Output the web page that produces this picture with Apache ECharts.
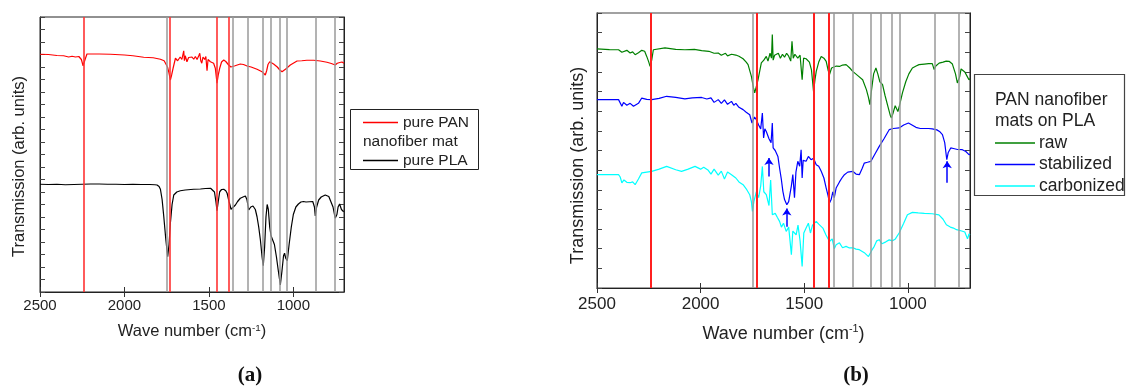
<!DOCTYPE html>
<html>
<head>
<meta charset="utf-8">
<script src="https://cdn.jsdelivr.net/npm/echarts@6/dist/echarts.min.js"></script>
<style>
  html, body { margin: 0; padding: 0; background: #fff; }
  #chart { width: 1126px; height: 390px; }
</style>
</head>
<body>
<div id="chart"></div>
<script>
// x ticks (wave number, cm-1)
var xTicks = [1000, 1500, 2000, 2500];

// reference band positions
var redBands = [2240, 1730, 1452, 1382];
var grayBands = [1750, 1358, 1268, 1180, 1132, 1080, 1038, 870, 755];

// (a) pure PAN nanofiber mat
var panW = [2500,2450,2400,2360,2330,2310,2290,2270,2255,2245,2240,2233,2222,2150,2083,2000,1950,1886,1830,1787,1765,1757,1745,1738,1728,1720,1712,1698,1685,1670,1660,1649,1645,1640,1630,1620,1610,1600,1590,1580,1570,1560,1554,1548,1542,1535,1525,1518,1511,1505,1491,1472,1462,1452,1444,1436,1425,1412,1400,1383,1370,1363,1345,1314,1295,1274,1250,1215,1185,1175,1166,1158,1150,1140,1130,1117,1095,1080,1067,1045,1018,978,950,920,880,840,801,775,752,740,725,712,700];
var panT = [9.51,9.50,9.46,9.45,9.40,9.43,9.40,9.42,9.30,9.05,9.01,9.30,9.52,9.52,9.51,9.48,9.45,9.39,9.37,9.31,9.25,9.21,9.00,8.81,8.48,8.70,8.95,9.35,9.25,9.40,9.30,9.65,9.25,9.45,9.21,9.38,9.30,9.40,9.31,9.42,9.30,9.45,9.55,9.25,9.15,9.40,9.30,9.42,8.85,9.30,9.21,9.15,8.95,8.35,8.70,8.95,9.20,9.28,9.22,9.08,9.00,8.95,9.05,9.12,9.10,9.04,9.00,8.91,8.81,8.75,8.68,8.85,9.10,9.21,9.18,9.12,9.00,8.88,8.81,8.92,9.08,9.24,9.25,9.27,9.27,9.24,9.19,9.14,9.08,9.15,9.18,9.20,9.15];

// (a) pure PLA
var plaW = [2500,2450,2400,2350,2300,2250,2200,2150,2100,2050,2000,1950,1900,1850,1820,1807,1795,1787,1777,1767,1755,1744,1736,1728,1718,1708,1690,1669,1640,1590,1550,1520,1490,1481,1467,1458,1452,1445,1436,1425,1412,1400,1392,1380,1369,1355,1343,1330,1314,1298,1284,1275,1264,1252,1239,1225,1215,1205,1195,1185,1178,1170,1162,1155,1148,1140,1132,1122,1112,1100,1090,1077,1068,1058,1052,1045,1036,1025,1012,1000,985,970,955,940,925,905,885,875,870,862,850,835,811,790,781,765,752,742,735,726,715,702,700];
var plaT = [4.31,4.30,4.31,4.29,4.30,4.31,4.32,4.32,4.31,4.31,4.30,4.31,4.30,4.30,4.29,4.28,4.22,4.11,3.70,3.01,2.10,1.41,1.90,2.75,3.50,3.88,4.00,4.05,4.08,4.11,4.12,4.14,4.15,4.15,4.00,3.60,3.25,3.60,4.01,4.10,4.11,4.05,3.95,3.60,3.31,3.40,3.48,3.62,3.75,3.80,3.84,3.70,3.28,3.40,3.44,3.30,3.01,2.60,2.08,1.40,1.05,1.80,3.00,3.50,3.30,2.60,2.25,2.19,1.90,1.40,0.90,0.28,0.80,1.45,1.55,1.35,1.25,1.90,2.60,3.10,3.40,3.52,3.60,3.62,3.60,3.61,3.62,3.40,3.04,3.40,3.68,3.80,3.88,3.82,3.75,3.40,2.95,3.10,3.40,3.52,3.30,3.21,3.20];

// (b) PAN nanofiber mats on PLA: raw
var rawW = [2500,2440,2396,2380,2372,2356,2340,2328,2316,2300,2284,2270,2260,2250,2244,2236,2228,2172,2120,2076,2030,1995,1960,1935,1915,1900,1880,1870,1851,1830,1815,1795,1780,1771,1755,1745,1739,1730,1723,1707,1695,1683,1675,1665,1658,1654,1650,1643,1635,1625,1615,1605,1595,1585,1575,1571,1565,1559,1553,1545,1531,1520,1510,1503,1491,1475,1465,1455,1448,1442,1430,1418,1405,1394,1385,1378,1368,1359,1345,1330,1315,1298,1280,1266,1240,1218,1200,1190,1183,1175,1165,1154,1145,1135,1122,1110,1095,1085,1079,1070,1061,1048,1040,1026,1010,995,978,960,946,920,900,882,873,865,849,830,815,801,785,770,761,750,743,737,725,715,705,700];
var rawT = [12.17,12.14,12.13,12.00,11.96,12.10,11.96,12.02,11.88,11.98,12.10,12.05,11.79,11.50,11.28,11.60,12.13,12.22,12.15,12.13,12.15,12.08,12.05,11.95,11.96,11.85,11.95,11.82,11.90,11.86,11.80,11.67,11.50,11.37,10.77,10.20,9.93,10.30,10.60,11.46,11.60,11.79,11.55,11.95,11.70,12.90,11.60,11.85,11.79,11.95,11.70,11.90,11.75,11.95,11.80,11.88,11.55,12.56,11.70,11.90,11.70,11.85,10.60,11.70,11.67,11.50,11.10,10.01,10.60,11.03,11.50,11.79,11.70,11.54,11.10,10.86,11.20,11.12,11.30,11.28,11.35,11.37,11.20,11.03,10.80,10.60,10.10,9.70,9.33,10.10,10.90,11.20,10.90,10.50,10.35,9.80,9.20,8.80,8.66,8.95,9.28,8.98,9.30,9.93,10.50,10.90,11.20,11.30,11.37,11.40,11.42,11.42,11.12,11.30,11.45,11.50,11.55,11.54,11.40,10.90,10.44,10.75,11.15,11.20,11.00,10.80,10.60,10.65];

// (b) stabilized
var stabW = [2500,2440,2396,2388,2380,2372,2364,2356,2348,2340,2332,2324,2316,2300,2284,2260,2236,2200,2164,2120,2076,2040,1995,1970,1950,1935,1915,1900,1885,1870,1851,1840,1830,1815,1795,1780,1763,1752,1747,1740,1731,1720,1710,1702,1696,1690,1683,1670,1660,1654,1650,1640,1635,1627,1619,1610,1603,1595,1584,1575,1571,1562,1555,1547,1540,1531,1522,1515,1510,1505,1491,1480,1467,1455,1442,1430,1418,1405,1394,1385,1378,1370,1362,1355,1346,1330,1315,1306,1290,1282,1266,1250,1234,1220,1210,1195,1178,1160,1138,1115,1090,1070,1042,1020,997,980,961,940,900,882,860,845,833,822,812,805,793,780,760,737,720,705,700];
var stabT = [9.59,9.59,9.59,9.50,9.25,9.45,9.45,9.30,9.25,9.40,9.45,9.25,9.16,9.40,9.67,9.60,9.59,9.65,9.76,9.70,9.63,9.68,9.70,9.62,9.68,9.45,9.59,9.40,9.58,9.35,9.50,9.30,9.40,9.20,9.08,8.95,8.82,8.40,8.31,8.70,8.57,8.30,8.10,8.91,7.64,8.10,7.97,7.60,7.40,8.40,7.13,7.00,6.96,6.70,6.11,5.50,4.92,4.50,4.24,4.40,4.50,5.20,5.77,4.60,5.90,6.45,6.20,7.04,5.60,6.50,6.45,6.70,6.53,6.60,6.28,6.20,5.94,5.60,5.09,4.70,4.33,4.50,4.90,4.60,5.09,5.40,5.65,5.77,5.90,5.94,5.94,5.80,5.77,6.10,6.36,6.40,6.45,6.80,7.21,7.60,8.06,8.12,8.15,8.30,8.40,8.30,8.18,8.12,8.12,8.10,8.05,7.95,7.81,7.40,6.53,6.90,7.13,7.10,7.05,7.04,6.95,6.79,6.80];

// (b) carbonized
var carbW = [2500,2440,2396,2388,2380,2370,2356,2348,2340,2328,2316,2300,2284,2236,2200,2164,2120,2092,2060,2027,2000,1985,1963,1950,1935,1915,1900,1885,1870,1851,1830,1815,1795,1780,1763,1755,1750,1743,1731,1720,1710,1702,1695,1683,1670,1662,1654,1640,1630,1619,1610,1600,1587,1575,1562,1555,1539,1530,1520,1510,1502,1491,1480,1470,1460,1442,1430,1410,1395,1378,1365,1355,1346,1330,1315,1298,1282,1265,1250,1234,1210,1190,1186,1175,1162,1150,1138,1125,1106,1090,1074,1060,1042,1020,1002,978,950,920,882,850,830,814,795,780,765,740,725,717,712,705,700];
var carbT = [5.77,5.77,5.77,5.65,5.35,5.50,5.38,5.45,5.36,5.40,5.26,5.55,5.86,5.94,6.05,6.19,6.02,5.94,6.05,6.19,6.05,6.15,5.99,5.80,6.05,5.75,5.95,5.55,5.90,5.77,5.60,5.40,5.26,5.05,4.75,4.40,3.90,4.40,4.90,4.60,5.20,6.19,4.90,4.75,4.20,5.50,3.73,3.80,3.60,3.39,3.10,3.30,2.88,3.10,1.70,2.90,2.71,3.20,2.40,1.10,2.80,3.05,3.30,2.80,3.20,3.39,3.25,3.05,2.70,2.37,2.50,2.00,2.20,2.30,2.05,2.12,2.04,2.05,1.98,1.95,1.80,1.60,1.53,1.90,2.12,2.40,2.46,2.25,2.35,2.45,2.40,2.50,2.80,3.30,3.73,3.85,3.82,3.80,3.78,3.72,3.50,3.22,3.10,3.05,2.97,2.90,2.85,2.80,2.50,2.75,2.70];

// blue arrows in (b): [wave number, from, to]
var arrows = [[1670, 5.68, 6.62], [1584, 3.12, 4.05], [810, 5.36, 6.45]];

function zip(w, t) {
  return w.map(function (v, i) { return [v, t[i]]; });
}

var font = 'Liberation Sans, Arial, sans-serif';
var myChart = echarts.init(document.getElementById('chart'));

function bandLines(red, gray, redColor, redW) {
  var d = [];
  gray.forEach(function (v) { d.push({xAxis: v, lineStyle: {color: '#9a9a9a', width: 1.5, type: 'solid'}}); });
  red.forEach(function (v) { d.push({xAxis: v, lineStyle: {color: redColor, width: redW, type: 'solid'}}); });
  return d;
}

function xAxes(gi, fs, gap, nameSize, margin) {
  return [
    {
      gridIndex: gi, type: 'value', inverse: true, min: 700, max: 2500,
      splitLine: {show: false},
      axisLine: {lineStyle: {color: '#222', width: 1}},
      axisTick: {inside: true, length: 5, customValues: xTicks, lineStyle: {color: '#333'}},
      axisLabel: {customValues: xTicks, fontSize: fs, color: '#222', fontFamily: font, margin: margin,
        formatter: function (v) { return String(v); }},
      name: 'Wave number (cm{sup|-1})', nameLocation: 'middle', nameGap: gap,
      nameTextStyle: {fontSize: nameSize, color: '#222', fontFamily: font,
        rich: {sup: {fontSize: nameSize * 0.6, verticalAlign: 'top', padding: [0, 0, nameSize * 0.45, 0], fontFamily: font, color: '#222'}}}
    },
    {
      gridIndex: gi, type: 'value', inverse: true, min: 700, max: 2500, position: 'top',
      splitLine: {show: false}, axisLine: {show: false},
      axisTick: {inside: true, length: 5, customValues: xTicks, lineStyle: {color: '#333'}},
      axisLabel: {show: false}
    }
  ];
}

function yAxes(gi, max, interval, gap, nameSize, shift) {
  return [
    {
      gridIndex: gi, type: 'value', min: 0, max: max, interval: interval,
      splitLine: {show: false},
      axisLine: {show: true, lineStyle: {color: '#222', width: 1}},
      axisTick: {inside: true, length: 5, lineStyle: {color: '#444'}},
      axisLabel: {show: false},
      name: 'Transmission (arb. units)', nameLocation: 'middle', nameGap: gap,
      nameTextStyle: {fontSize: nameSize, color: '#222', fontFamily: font, padding: [0, shift, 0, 0]}
    },
    {
      gridIndex: gi, type: 'value', min: 0, max: max, interval: interval, position: 'right',
      splitLine: {show: false},
      axisLine: {show: true, lineStyle: {color: '#222', width: 1}},
      axisTick: {inside: true, length: 5, lineStyle: {color: '#444'}},
      axisLabel: {show: false}
    }
  ];
}

function curve(name, xi, yi, w, t, color) {
  return {
    name: name, type: 'line', xAxisIndex: xi, yAxisIndex: yi,
    data: zip(w, t), showSymbol: false, symbol: 'none', smooth: false,
    lineStyle: {color: color, width: 1.2}, itemStyle: {color: color},
    animation: false, z: 2
  };
}

var stabSeries = curve('stabilized', 2, 2, stabW, stabT, '#0000ff');
stabSeries.markLine = {
  silent: true, animation: false, symbol: ['none', 'arrow'], symbolSize: 7,
  label: {show: false},
  lineStyle: {color: '#0000ff', width: 1.5, type: 'solid'},
  data: arrows.map(function (a) { return [{coord: [a[0], a[1]]}, {coord: [a[0], a[2]]}]; })
};

var option = {
  backgroundColor: '#fff',
  animation: false,
  grid: [
    {left: 40, top: 17, width: 304, height: 275, show: true, borderColor: '#222', borderWidth: 1},
    {left: 597, top: 13, width: 373, height: 275, show: true, borderColor: '#444', borderWidth: 1.2}
  ],
  xAxis: xAxes(0, 15, 31, 16.5, 6).concat(xAxes(1, 17, 36, 18, 8)),
  yAxis: yAxes(0, 11, 0.5, 12, 16.5, 24).concat(yAxes(1, 14, 1, 10, 18, 30)),
  series: [
    curve('pure PAN nanofiber mat', 0, 0, panW, panT, '#ff0000'),
    curve('pure PLA', 0, 0, plaW, plaT, '#000000'),
    curve('raw', 2, 2, rawW, rawT, '#008000'),
    stabSeries,
    curve('carbonized', 2, 2, carbW, carbT, '#00ffff'),
    {
      type: 'line', xAxisIndex: 0, yAxisIndex: 0, data: [], z: 3,
      markLine: {silent: true, animation: false, symbol: 'none', label: {show: false},
        data: bandLines(redBands, grayBands, '#f33', 1.6)}
    },
    {
      type: 'line', xAxisIndex: 2, yAxisIndex: 2, data: [], z: 3,
      markLine: {silent: true, animation: false, symbol: 'none', label: {show: false},
        data: bandLines(redBands, grayBands, '#ff2020', 2)}
    }
  ],
  graphic: [
    // legend (a)
    {type: 'rect', shape: {x: 350.5, y: 109.5, width: 128, height: 60}, style: {fill: '#fff', stroke: '#222', lineWidth: 1}},
    {type: 'line', shape: {x1: 363, y1: 122.5, x2: 398, y2: 122.5}, style: {stroke: '#ff0000', lineWidth: 1.3}},
    {type: 'text', x: 403, y: 122.5, style: {text: 'pure PAN', fontSize: 15.5, fontFamily: font, fill: '#222', verticalAlign: 'middle'}},
    {type: 'text', x: 363, y: 142, style: {text: 'nanofiber mat', fontSize: 15.5, fontFamily: font, fill: '#222', verticalAlign: 'middle'}},
    {type: 'line', shape: {x1: 363, y1: 160.5, x2: 398, y2: 160.5}, style: {stroke: '#000', lineWidth: 1.3}},
    {type: 'text', x: 403, y: 160.5, style: {text: 'pure PLA', fontSize: 15.5, fontFamily: font, fill: '#222', verticalAlign: 'middle'}},
    // legend (b)
    {type: 'rect', shape: {x: 974.5, y: 74.5, width: 150, height: 121}, style: {fill: '#fff', stroke: '#444', lineWidth: 1.2}},
    {type: 'text', x: 995, y: 100, style: {text: 'PAN nanofiber', fontSize: 17.5, fontFamily: font, fill: '#222', verticalAlign: 'middle'}},
    {type: 'text', x: 995, y: 121.5, style: {text: 'mats on PLA', fontSize: 17.5, fontFamily: font, fill: '#222', verticalAlign: 'middle'}},
    {type: 'line', shape: {x1: 995, y1: 143, x2: 1035, y2: 143}, style: {stroke: '#008000', lineWidth: 1.4}},
    {type: 'text', x: 1039, y: 143, style: {text: 'raw', fontSize: 17.5, fontFamily: font, fill: '#222', verticalAlign: 'middle'}},
    {type: 'line', shape: {x1: 995, y1: 164.5, x2: 1035, y2: 164.5}, style: {stroke: '#0000ff', lineWidth: 1.4}},
    {type: 'text', x: 1039, y: 164.5, style: {text: 'stabilized', fontSize: 17.5, fontFamily: font, fill: '#222', verticalAlign: 'middle'}},
    {type: 'line', shape: {x1: 995, y1: 186, x2: 1035, y2: 186}, style: {stroke: '#00ffff', lineWidth: 1.4}},
    {type: 'text', x: 1039, y: 186, style: {text: 'carbonized', fontSize: 17.5, fontFamily: font, fill: '#222', verticalAlign: 'middle'}},
    // panel labels
    {type: 'text', x: 250, y: 376, style: {text: '(a)', fontSize: 21, fontWeight: 'bold', fontFamily: 'Liberation Serif, DejaVu Serif, serif', fill: '#111', align: 'center', verticalAlign: 'middle'}},
    {type: 'text', x: 856, y: 376, style: {text: '(b)', fontSize: 21, fontWeight: 'bold', fontFamily: 'Liberation Serif, DejaVu Serif, serif', fill: '#111', align: 'center', verticalAlign: 'middle'}}
  ]
};

myChart.setOption(option);
</script>
</body>
</html>
